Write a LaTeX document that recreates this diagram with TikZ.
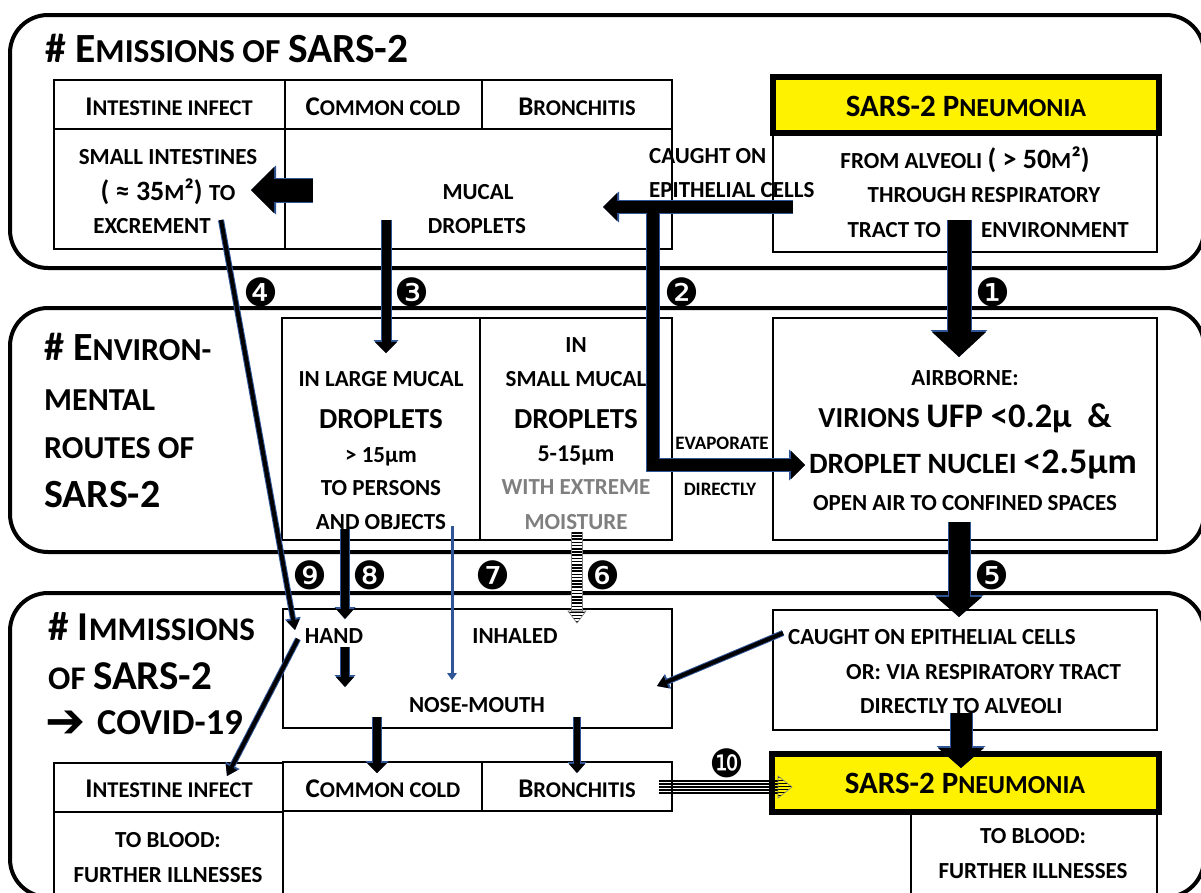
\documentclass[tikz,border=0pt]{standalone}
\usepackage{fontspec}
\setmainfont{Carlito}
\newfontfamily\djv{DejaVu Sans}
\usetikzlibrary{arrows.meta,patterns,calc}
\definecolor{ablue}{RGB}{47,85,151}
\definecolor{mgray}{RGB}{127,127,127}
\newcommand\fsz[1]{\fontsize{#1}{#1}\selectfont}
\newcommand\hd[2]{{\fsz{27}#1}{\fsz{22.5}#2}}
\newcommand\barr[4]{%
  \pgfmathsetmacro\bsw{#2+2}\pgfmathsetmacro\bhw{#3+3}\pgfmathsetmacro\bhl{#4+2}%
  \draw[ablue, line width=\bsw pt, -{Triangle[width=\bhw pt,length=\bhl pt,line width=0pt]}] #1;
  \draw[black, line width=#2pt, -{Triangle[width=#3pt,length=#4pt,line width=0pt]}] #1;}
\tikzset{
  txt/.style={inner sep=0pt, anchor=base, font=\bfseries},
  txtw/.style={txt, anchor=base west},
  txte/.style={txt, anchor=base east},
  num/.style={inner sep=0pt, anchor=center, font=\djv\fsz{39}},
  panel/.style={draw, line width=4pt, rounded corners=38pt},
  cell/.style={draw, line width=1.4pt},
  ycell/.style={draw, line width=6pt, fill=yellow},
}
\begin{document}
\begin{tikzpicture}[x=1pt,y=-1pt]
\useasboundingbox (0,0) rectangle (1201,892);
\clip (0,0) rectangle (1201,892);
\fill[white] (0,0) rectangle (1201,892);
% panels
\draw[panel] (10,15) rectangle (1204,268);
\draw[panel] (10,308) rectangle (1204,552);
\draw[panel] (10,593) rectangle (1204,897);
% panel 1 cells
\draw[cell] (54,80) rectangle (285,129);
\draw[cell] (285,80) rectangle (482,129);
\draw[cell] (482,80) rectangle (672,129);
\draw[cell] (54,129) rectangle (285,249);
\draw[cell] (285,129) rectangle (672,249);
\draw[cell] (773,133) rectangle (1157,252);
\draw[ycell] (773,77) rectangle (1159,133);
% panel 2 cells
\draw[cell] (282,318) rectangle (480,540);
\draw[cell] (480,318) rectangle (672,540);
\draw[cell] (773,318) rectangle (1157,540);
% panel 3 cells
\draw[cell] (283,609) rectangle (672,728);
\draw[cell] (773,610) rectangle (1157,730);
\draw[cell] (54,763) rectangle (283,812);
\draw[cell] (283,762) rectangle (482,811);
\draw[cell] (482,762) rectangle (672,811);
\draw[cell] (54,812) rectangle (283,900);
\draw[cell] (911,812) rectangle (1157,900);
\draw[ycell] (772,754) rectangle (1159,812);

% panel 1 texts
\node[txtw] (T1) at (45,62) {{\fsz{41.5}\# E}{\fsz{33.5}MISSIONS OF }{\fsz{41.5}SARS-2}};
\node[txt] (H1a) at (169,115) {\hd{I}{NTESTINE INFECT}};
\node[txt] (H1b) at (383,115) {\hd{C}{OMMON COLD}};
\node[txt] (H1c) at (577,115) {\hd{B}{RONCHITIS}};
\node[txt] (H1d) at (966,116) {{\fsz{31}SARS-2 P}{\fsz{26}NEUMONIA}};
\node[txt] (B1a) at (168,164) {\fsz{23}SMALL INTESTINES};
\node[txt] (B1b) at (168,200) {{\fsz{28}( ≈ 35}{\fsz{23}M}{\fsz{28}²) }{\fsz{23}TO}};
\node[txt] (B1c) at (152,233) {\fsz{23}EXCREMENT};
\node[txt] (M1a) at (478,199) {\fsz{23}MUCAL};
\node[txt] (M1b) at (477,233) {\fsz{23}DROPLETS};
\node[txtw] (C1a) at (649,163) {\fsz{23}CAUGHT ON};
\node[txtw] (C1b) at (649,197) {\fsz{23}EPITHELIAL CELLS};
\node[txt] (P1a) at (965,168) {{\fsz{23}FROM ALVEOLI }{\fsz{28}( > 50}{\fsz{23}M}{\fsz{28}²)}};
\node[txt] (P1b) at (984,202) {\fsz{23}THROUGH RESPIRATORY};
\node[txte] (P1c) at (941,237) {\fsz{23}TRACT TO};
\node[txtw] (P1d) at (981,237) {\fsz{23}ENVIRONMENT};

% panel 2 texts
\node[txtw] (T2a) at (44,360) {{\fsz{40}\# E}{\fsz{32}NVIRON-}};
\node[txtw] (T2b) at (44,410) {\fsz{32}MENTAL};
\node[txtw] (T2c) at (44,458) {\fsz{32}ROUTES OF};
\node[txtw] (T2d) at (44,507) {\fsz{40}SARS-2};
\node[txt] (L2a) at (381,386) {\fsz{23}IN LARGE MUCAL};
\node[txt] (L2b) at (381,428) {\fsz{29}DROPLETS};
\node[txt] (L2c) at (381,462) {\fsz{23}> 15µm};
\node[txt] (L2d) at (381,495) {\fsz{23}TO PERSONS};
\node[txt] (L2e) at (381,529) {\fsz{23}AND OBJECTS};
\node[txt] (S2a) at (576,352) {\fsz{23}IN};
\node[txt] (S2b) at (576,386) {\fsz{23}SMALL MUCAL};
\node[txt] (S2c) at (576,428) {\fsz{29}DROPLETS};
\node[txt] (S2d) at (576,461) {\fsz{24}5-15µm};
\node[txt, text=mgray] (S2e) at (576,494) {\fsz{23}WITH EXTREME};
\node[txt, text=mgray] (S2f) at (576,529) {\fsz{23}MOISTURE};
\node[txt] (E2a) at (722,449) {\fsz{19}EVAPORATE};
\node[txt] (E2b) at (720,495) {\fsz{19}DIRECTLY};
\node[txt] (A2a) at (965,385) {\fsz{23}AIRBORNE:};
\node[txt] (A2b) at (965,427) {{\fsz{29}VIRIONS }{\fsz{34.5}UFP <0.2µ\ \ \&}};
\node[txt] (A2c) at (973,473) {{\fsz{29.5}DROPLET NUCLEI }{\fsz{36}<2.5µm}};
\node[txt] (A2d) at (965,510) {\fsz{23}OPEN AIR TO CONFINED SPACES};

% panel 3 texts
\node[txtw] (T3a) at (48,640) {{\fsz{41}\# I}{\fsz{33}MMISSIONS}};
\node[txtw] (T3b) at (48,689) {{\fsz{33}OF }{\fsz{41}SARS-2}};
\node[inner sep=0pt, anchor=center, font=\djv\fsz{48}] (T3c) at (66,724) {➔};
\node[txtw] (T3d) at (97,734) {\fsz{36.5}COVID-19};
\node[txt] (N3a) at (334,643) {\fsz{23}HAND};
\node[txt] (N3b) at (515,643) {\fsz{23}INHALED};
\node[txt] (N3c) at (477,712) {\fsz{23}NOSE-MOUTH};
\node[txtw] (C3a) at (788,644) {\fsz{23}CAUGHT ON EPITHELIAL CELLS};
\node[txtw] (C3b) at (846,679) {\fsz{23}OR: VIA RESPIRATORY TRACT};
\node[txtw] (C3c) at (860,713) {\fsz{23}DIRECTLY TO ALVEOLI};
\node[txt] (H3a) at (169,797) {\hd{I}{NTESTINE INFECT}};
\node[txt] (H3b) at (383,797) {\hd{C}{OMMON COLD}};
\node[txt] (H3c) at (577,797) {\hd{B}{RONCHITIS}};
\node[txt] (H3d) at (965,793) {{\fsz{31}SARS-2 P}{\fsz{26}NEUMONIA}};
\node[txt] (I3a) at (168,847) {\fsz{23}TO BLOOD:};
\node[txt] (I3b) at (168,882) {\fsz{23}FURTHER ILLNESSES};
\node[txt] (R3a) at (1033,843) {\fsz{23}TO BLOOD:};
\node[txt] (R3b) at (1033,878) {\fsz{23}FURTHER ILLNESSES};

% numbers
\node[num] (n1) at (993,292) {❶};
\node[num] (n2) at (682,292) {❷};
\node[num] (n3) at (412,292) {❸};
\node[num] (n4) at (261,292) {❹};
\node[num] (n5) at (992,575) {❺};
\node[num] (n6) at (603,575) {❻};
\node[num] (n7) at (493,575) {❼};
\node[num] (n8) at (370,575) {❽};
\node[num] (n9) at (310,575) {❾};
\node[num] (n10) at (727,763) {❿};

% connector end points
\coordinate (a1s) at (959,220); \coordinate (a1t) at (959,357);
\coordinate (abs) at (313,190); \coordinate (abt) at (251,190);
\coordinate (a2s) at (793,207); \coordinate (a2t) at (603,207);
\coordinate (a2j) at (653,207); \coordinate (a2c) at (653,465); \coordinate (a2e) at (805,465);
\coordinate (a3s) at (386,220); \coordinate (a3t) at (386,353);
\coordinate (a4s) at (221,220); \coordinate (a4t) at (295,630);
\coordinate (a5s) at (959,522); \coordinate (a5t) at (959,617);
\coordinate (a6s) at (577,532); \coordinate (a6b) at (577,611); \coordinate (a6t) at (577,623);
\coordinate (a7s) at (452,526); \coordinate (a7t) at (452,680);
\coordinate (a8s) at (345,529); \coordinate (a8t) at (345,619);
\coordinate (a9s) at (298,639); \coordinate (a9t) at (227,776);
\coordinate (ahs) at (345,647); \coordinate (aht) at (345,687);
\coordinate (acs) at (377,717); \coordinate (act) at (377,773);
\coordinate (ars) at (577,717); \coordinate (art) at (577,773);
\coordinate (ans) at (783,633); \coordinate (ant) at (657,686);
\coordinate (aps) at (961,713); \coordinate (apt) at (961,768);
\coordinate (a10s) at (659,787); \coordinate (a10b) at (778,787); \coordinate (a10t) at (792,787);

% arrows
\barr{(a1s) -- (a1t)}{23}{54}{25}
\barr{(abs) -- (abt)}{23}{46}{23}
\barr{(a3s) -- (a3t)}{9}{22}{11}
\barr{(a4s) -- (a4t)}{4}{13}{10}
\barr{(a5s) -- (a5t)}{21}{46}{20}
\barr{(a8s) -- (a8t)}{8}{18}{10}
\barr{(a9s) -- (a9t)}{4}{13}{10}
\barr{(ahs) -- (aht)}{8}{18}{10}
\barr{(acs) -- (act)}{8}{20}{10}
\barr{(ars) -- (art)}{6}{16}{9}
\barr{(ans) -- (ant)}{4}{13}{10}
\barr{(aps) -- (apt)}{21}{46}{20}
\draw[ablue, line width=3pt, -{Triangle[width=10pt,length=7pt,line width=0pt]}] (a7s) -- (a7t);
% arrow 2 (T-shaped)
\draw[ablue, line width=14pt, -{Triangle[width=31pt,length=16pt,line width=0pt]}] (a2s) -- (a2t);
\draw[ablue, line width=14pt, line join=miter, -{Triangle[width=31pt,length=16pt,line width=0pt]}] (a2j) -- (a2c) -- (a2e);
\draw[black, line width=12pt, -{Triangle[width=28pt,length=14pt,line width=0pt]}] (a2s) -- (a2t);
\draw[black, line width=12pt, line join=miter, -{Triangle[width=28pt,length=14pt,line width=0pt]}] (a2j) -- (a2c) -- (a2e);
% arrow 6 (striped)
\draw[mgray, line width=0.6pt, fill=white] ($(a6s)+(-5.5,0)$) rectangle ($(a6b)+(5.5,0)$);
\draw[black, line width=10pt, dash pattern=on 1.6pt off 1.6pt] (a6s) -- (a6b);
\draw[mgray, line width=0.6pt, pattern=horizontal lines, pattern color=black] ($(a6b)+(-9,0)$) -- (a6t) -- ($(a6b)+(9,0)$) -- cycle;
% arrow 10 (striped)
\foreach \d in {-6,-3,0,3,6} \draw[black, line width=1.3pt] ([yshift=\d pt]a10s) -- ([yshift=\d pt]a10b);
\draw[mgray, line width=0.6pt, pattern=horizontal lines, pattern color=black] ($(a10b)+(0,-11)$) -- (a10t) -- ($(a10b)+(0,11)$) -- cycle;
\end{tikzpicture}
\end{document}
